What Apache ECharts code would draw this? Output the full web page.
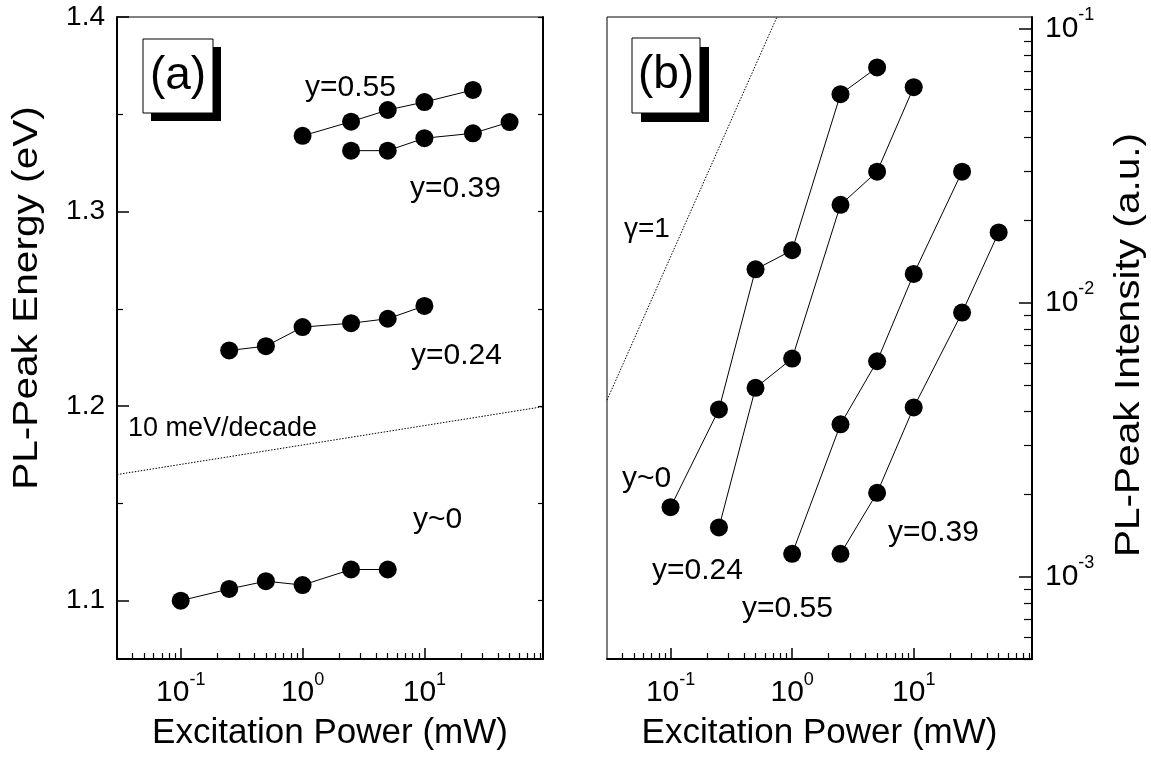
<!DOCTYPE html>
<html>
<head>
<meta charset="utf-8">
<script src="https://cdn.jsdelivr.net/npm/echarts@6/dist/echarts.min.js"></script>
<style>
  html, body { margin: 0; padding: 0; background: #fff; }
  #chart { width: 1151px; height: 762px; }
</style>
</head>
<body>
<div id="chart"></div>
<script>
// Excitation power (mW) and PL-peak energy (eV), panel (a)
const powerY0 = [0.1, 0.25, 0.5, 1, 2.5, 5];
const energyY0 = [1.100, 1.106, 1.110, 1.108, 1.116, 1.116];
const powerY24 = [0.25, 0.5, 1, 2.5, 5, 10];
const energyY24 = [1.2286, 1.2308, 1.2406, 1.2426, 1.2449, 1.2515];
const powerY39 = [2.5, 5, 10, 25, 50];
const energyY39 = [1.3313, 1.3313, 1.3377, 1.3402, 1.3460];
const powerY55 = [1, 2.5, 5, 10, 25];
const energyY55 = [1.3389, 1.3462, 1.3522, 1.3563, 1.3625];

// PL-peak intensity (a.u.), panel (b)
const intensityY0 = [1.79e-3, 4.07e-3, 1.32e-2, 1.55e-2, 5.75e-2, 7.2e-2];
const intensityY24 = [1.51e-3, 4.88e-3, 6.24e-3, 2.27e-2, 3.0e-2, 6.1e-2];
const intensityY55 = [1.21e-3, 3.59e-3, 6.10e-3, 1.27e-2, 3.0e-2];
const intensityY39 = [1.21e-3, 2.02e-3, 4.14e-3, 9.18e-3, 1.80e-2];

// Guide lines: 10 meV/decade slope and gamma = 1 (I proportional to P)
const slopeP = [0.03, 94];
const slopeE = [1.1648, 1.1997];
const gammaP = [0.03, 0.75];
const gammaI = [0.0044, 0.11];

// Axis ticks
const powerMajor = [0.1, 1, 10];
const powerMinor = [0.04, 0.05, 0.06, 0.07, 0.08, 0.09,
  0.2, 0.3, 0.4, 0.5, 0.6, 0.7, 0.8, 0.9,
  2, 3, 4, 5, 6, 7, 8, 9,
  20, 30, 40, 50, 60, 70, 80, 90];
const energyMajor = [1.1, 1.2, 1.3, 1.4];
const energyMinor = [1.15, 1.25, 1.35];
const intensityMajor = [1e-3, 1e-2, 1e-1];
const intensityMinor = [5e-4, 6e-4, 7e-4, 8e-4, 9e-4,
  2e-3, 3e-3, 4e-3, 5e-3, 6e-3, 7e-3, 8e-3, 9e-3,
  2e-2, 3e-2, 4e-2, 5e-2, 6e-2, 7e-2, 8e-2, 9e-2];

const FONT = "'Liberation Sans', Arial, sans-serif";
const pairs = (xs, ys) => xs.map((x, i) => [x, ys[i]]);

const powRich = {
  b: { fontSize: 30, lineHeight: 44, fontFamily: FONT, color: '#000' },
  s: { fontSize: 18, lineHeight: 20, verticalAlign: 'top', fontFamily: FONT, color: '#000' }
};
const powFormatter = v => '{b|10}{s|' + Math.round(Math.log10(v)) + '}';

function powerAxes(grid) {
  return [{
    gridIndex: grid, type: 'log', min: 0.03, max: 94, position: 'bottom',
    axisLine: { show: true, lineStyle: { color: '#000', width: 2 } },
    axisTick: { show: true, inside: true, length: 11, customValues: powerMajor, lineStyle: { color: '#000', width: 1.5 } },
    axisLabel: { show: true, customValues: powerMajor, margin: 12, formatter: powFormatter, rich: powRich },
    minorTick: { show: false }, splitLine: { show: false },
    name: 'Excitation Power (mW)', nameLocation: 'middle', nameGap: 57,
    nameTextStyle: { fontSize: 35, fontFamily: FONT, color: '#000' }
  }, {
    gridIndex: grid, type: 'log', min: 0.03, max: 94, position: 'bottom',
    axisLine: { show: false },
    axisTick: { show: true, inside: true, length: 6, customValues: powerMinor, lineStyle: { color: '#000', width: 1.2 } },
    axisLabel: { show: false }, splitLine: { show: false }
  }];
}

const lineSeries = (name, x, y, data) => ({
  name, type: 'line', xAxisIndex: x, yAxisIndex: y, data,
  symbol: 'circle', symbolSize: 18,
  itemStyle: { color: '#000' },
  lineStyle: { color: '#000', width: 1 },
  z: 5, animation: false
});
const guideSeries = (x, y, data) => ({
  type: 'line', xAxisIndex: x, yAxisIndex: y, data, symbol: 'none',
  lineStyle: { color: '#000', width: 1, type: [1.5, 1.5] },
  clip: true, z: 3, silent: true, animation: false
});

const textEl = (text, x, y, size) => ({
  type: 'text', x, y, z: 20,
  style: { text, fontSize: size, fontFamily: FONT, fill: '#000',
    align: 'left', verticalAlign: 'middle', textAlign: 'left', textVerticalAlign: 'middle' }
});
// Vertical axis title, reading bottom to top, slightly elongated along its length
const verticalTitle = (text, x, y) => ({
  type: 'text', x, y, rotation: Math.PI / 2, scaleX: 1.16, z: 20,
  style: { text, fontSize: 35, fontFamily: FONT, fill: '#000',
    align: 'center', verticalAlign: 'middle', textAlign: 'center', textVerticalAlign: 'middle' }
});
const panelTag = (text, x, y, w, h, sh) => [
  { type: 'rect', z: 18, shape: { x: x + sh, y: y + sh, width: w, height: h }, style: { fill: '#000' } },
  { type: 'rect', z: 19, shape: { x, y, width: w, height: h }, style: { fill: '#fff', stroke: '#000', lineWidth: 1 } },
  { type: 'text', z: 20, x: x + w / 2, y: y + h / 2,
    style: { text, fontSize: 46, fontFamily: FONT, fill: '#000',
      align: 'center', verticalAlign: 'middle', textAlign: 'center', textVerticalAlign: 'middle' } }
];

const chart = echarts.init(document.getElementById('chart'), null, { renderer: 'canvas' });
chart.setOption({
  animation: false,
  backgroundColor: '#fff',
  textStyle: { fontFamily: FONT, color: '#000' },
  grid: [
    { left: 117, top: 17, width: 426, height: 642, show: true, borderColor: '#000', borderWidth: 1,
      backgroundColor: 'transparent', outerBoundsMode: 'none', containLabel: false },
    { left: 607, top: 17, width: 425, height: 642, show: true, borderColor: '#000', borderWidth: 1,
      backgroundColor: 'transparent', outerBoundsMode: 'none', containLabel: false }
  ],
  xAxis: [...powerAxes(0), ...powerAxes(1)],
  yAxis: [
    {
      gridIndex: 0, type: 'value', min: 1.07, max: 1.4, position: 'left',
      axisLine: { show: true, lineStyle: { color: '#000', width: 2 } },
      axisTick: { show: true, inside: true, length: 12, customValues: energyMajor, lineStyle: { color: '#000', width: 1.5 } },
      axisLabel: { show: true, customValues: energyMajor, margin: 12, fontSize: 28, fontFamily: FONT, color: '#000',
        formatter: v => v.toFixed(1) },
      splitLine: { show: false }
    },
    {
      gridIndex: 0, type: 'value', min: 1.07, max: 1.4, position: 'left',
      axisLine: { show: false },
      axisTick: { show: true, inside: true, length: 6, customValues: energyMinor, lineStyle: { color: '#000', width: 1.2 } },
      axisLabel: { show: false }, splitLine: { show: false }
    },
    {
      gridIndex: 0, type: 'value', min: 1.07, max: 1.4, position: 'right',
      axisLine: { show: true, lineStyle: { color: '#000', width: 2 } },
      axisTick: { show: true, inside: true, length: 5, customValues: energyMajor.concat(energyMinor), lineStyle: { color: '#000', width: 1.2 } },
      axisLabel: { show: false }, splitLine: { show: false }
    },
    {
      gridIndex: 1, type: 'log', min: 5e-4, max: 0.11, position: 'right',
      axisLine: { show: true, lineStyle: { color: '#000', width: 2 } },
      axisTick: { show: true, inside: true, length: 13, customValues: intensityMajor, lineStyle: { color: '#000', width: 1.5 } },
      axisLabel: { show: true, customValues: intensityMajor, margin: 13, formatter: powFormatter, rich: powRich },
      splitLine: { show: false }, minorTick: { show: false }
    },
    {
      gridIndex: 1, type: 'log', min: 5e-4, max: 0.11, position: 'right',
      axisLine: { show: false },
      axisTick: { show: true, inside: true, length: 8, customValues: intensityMinor, lineStyle: { color: '#000', width: 1.2 } },
      axisLabel: { show: false }, splitLine: { show: false }
    }
  ],
  series: [
    guideSeries(0, 0, pairs(slopeP, slopeE)),
    lineSeries('y~0', 0, 0, pairs(powerY0, energyY0)),
    lineSeries('y=0.24', 0, 0, pairs(powerY24, energyY24)),
    lineSeries('y=0.39', 0, 0, pairs(powerY39, energyY39)),
    lineSeries('y=0.55', 0, 0, pairs(powerY55, energyY55)),
    guideSeries(2, 3, pairs(gammaP, gammaI)),
    lineSeries('y~0', 2, 3, pairs(powerY0, intensityY0)),
    lineSeries('y=0.24', 2, 3, pairs(powerY24, intensityY24)),
    lineSeries('y=0.55', 2, 3, pairs(powerY55, intensityY55)),
    lineSeries('y=0.39', 2, 3, pairs(powerY39, intensityY39))
  ],
  graphic: [
    ...panelTag('(a)', 143, 39, 70, 74, 8),
    ...panelTag('(b)', 632, 38, 68, 75, 9),
    verticalTitle('PL-Peak Energy (eV)', 27, 298),
    verticalTitle('PL-Peak Intensity (a.u.)', 1129, 345),
    textEl('y=0.55', 305, 88, 30),
    textEl('y=0.39', 410, 189, 30),
    textEl('y=0.24', 411, 356, 30),
    textEl('y~0', 413, 520, 30),
    textEl('10 meV/decade', 128, 429, 27),
    textEl('\u03b3=1', 624, 229, 28),
    textEl('y~0', 622, 479, 30),
    textEl('y=0.24', 652, 571, 30),
    textEl('y=0.55', 742, 609, 30),
    textEl('y=0.39', 888, 533, 30)
  ]
});
</script>
</body>
</html>
